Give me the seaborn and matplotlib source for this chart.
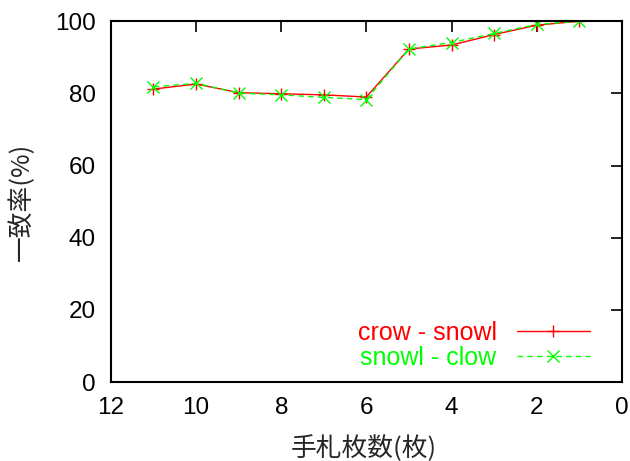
import matplotlib
matplotlib.use("Agg")
import matplotlib.pyplot as plt
import seaborn as sns
import pandas as pd

hand_sizes = [11, 10, 9, 8, 7, 6, 5, 4, 3, 2, 1]
crow_snowl = [81.2, 82.6, 80.2, 79.9, 79.6, 79.0, 92.3, 93.4, 96.3, 98.9, 100.0]
snowl_clow = [81.8, 82.8, 80.1, 79.6, 78.9, 78.3, 92.3, 94.1, 96.6, 99.1, 100.0]
series_names = ["crow - snowl", "snowl - clow"]
x_ticks = [12, 10, 8, 6, 4, 2, 0]
y_ticks = [0, 20, 40, 60, 80, 100]

sns.set_style("white")
plt.rcParams['font.family'] = ['Liberation Sans', 'Noto Sans CJK JP', 'DejaVu Sans']

df = pd.DataFrame({
    "x": hand_sizes * 2,
    "y": crow_snowl + snowl_clow,
    "series": [series_names[0]] * len(hand_sizes) + [series_names[1]] * len(hand_sizes),
})

fig = plt.figure(figsize=(6.3, 4.61), dpi=100)
ax = fig.add_axes([0.176, 0.171, 0.811, 0.783])

colors = ["#ff0000", "#00ff00"]
sns.lineplot(data=df, x="x", y="y", hue="series", style="series",
             palette=colors, markers=["+", "x"], dashes=[(None, None), (4, 3)],
             markersize=8.5, markeredgewidth=1.0, linewidth=1.0, ax=ax, legend=False)
lines = ax.get_lines()
for ln in lines:
    ln.set_markeredgecolor(ln.get_color())

ax.set_xlim(12, 0)
ax.set_ylim(0, 100)
ax.set_xticks(x_ticks)
ax.set_yticks(y_ticks)
ax.tick_params(direction="in", length=8, width=1.2, labelsize=17.5, top=True, right=True,
               colors="black")
ax.tick_params(axis="y", pad=11)
ax.tick_params(axis="x", pad=11)
for sp in ax.spines.values():
    sp.set_linewidth(1.5)
    sp.set_color("black")

ax.set_xlabel("手札枚数(枚)", fontsize=18.5, family=['Noto Sans CJK JP'], va="center")
ax.xaxis.set_label_coords(0.495, -0.185)
ax.set_ylabel("一致率(%)", fontsize=18.5, family=['Noto Sans CJK JP'], va="center")
ax.yaxis.set_label_coords(-0.175, 0.5)

leg = ax.legend(lines[:2], series_names, loc="lower right", frameon=False, markerfirst=False,
                fontsize=18, handlelength=2.95, handletextpad=0.8, labelspacing=0.06,
                borderaxespad=0.0, bbox_to_anchor=(0.958, 0.006))
for txt, c in zip(leg.get_texts(), colors):
    txt.set_color(c)

fig.savefig("out.png", dpi=100)
